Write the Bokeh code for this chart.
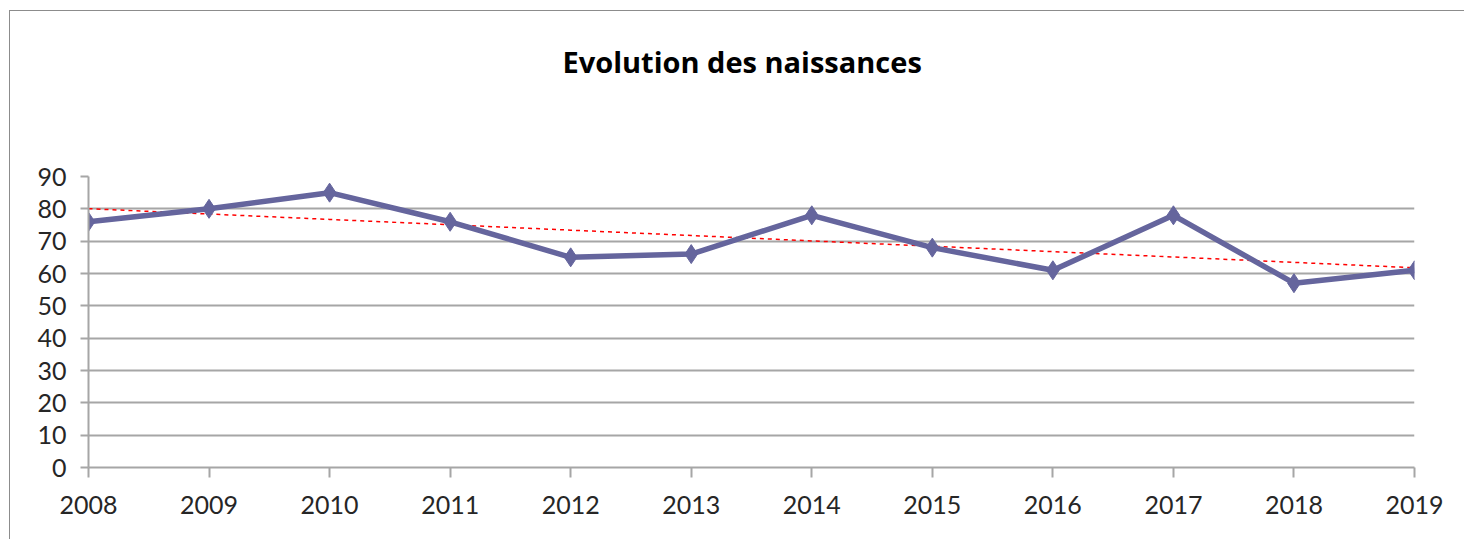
import numpy as np
from bokeh.plotting import figure
from bokeh.models import Range1d, FixedTicker, ColumnDataSource, Title
from bokeh.embed import file_html
from bokeh.resources import INLINE

# Data
years = [2008, 2009, 2010, 2011, 2012, 2013, 2014, 2015, 2016, 2017, 2018, 2019]
naissances = [76, 80, 85, 76, 65, 66, 78, 68, 61, 78, 57, 61]
y_ticks = [0, 10, 20, 30, 40, 50, 60, 70, 80, 90]
title_text = "Evolution des naissances"

# Linear trend (as Excel trendline)
coef = np.polyfit(years, naissances, 1)
trend = list(np.polyval(coef, years))

FONT = "Lato"
LINE_COL = "#65659d"
GRID_COL = "#a6a6a6"

p = figure(width=1455, height=529, output_backend="svg", toolbar_location=None,
           x_range=Range1d(2008, 2019), y_range=Range1d(0, 90),
           min_border_left=78, min_border_right=51, min_border_top=165, min_border_bottom=73)
p.styles = {"border-left": "1px solid #8c8c8c", "border-top": "1px solid #8c8c8c",
            "margin-left": "9px", "margin-top": "10px"}

p.title.text = title_text
p.title.align = "left"
p.title.offset = 474
p.title.text_font = "Open Sans"
p.title.text_font_size = "29px"
p.title.text_font_style = "bold"
p.title.text_color = "#000000"
p.title.standoff = 10

# spacer between title and plot area
spacer = Title(text=" ", text_font_size="10px", standoff=78)
p.add_layout(spacer, "above")

p.outline_line_color = None
p.background_fill_color = "white"
p.border_fill_color = "white"

p.xgrid.visible = False
p.ygrid.grid_line_color = GRID_COL
p.ygrid.grid_line_width = 2
p.ygrid.ticker = FixedTicker(ticks=y_ticks)

p.xaxis.ticker = FixedTicker(ticks=years)
p.yaxis.ticker = FixedTicker(ticks=y_ticks)
for ax in (p.xaxis[0], p.yaxis[0]):
    ax.axis_line_color = GRID_COL
    ax.axis_line_width = 2
    ax.major_tick_line_color = GRID_COL
    ax.major_tick_line_width = 2
    ax.major_tick_in = 0
    ax.minor_tick_line_color = None
    ax.major_label_text_font = FONT
    ax.major_label_text_font_size = "25px"
    ax.major_label_text_color = "#262626"
p.xaxis.major_tick_out = 10
p.xaxis.major_label_standoff = 18
p.yaxis.major_tick_out = 8
p.yaxis.major_label_standoff = 14

src = ColumnDataSource(dict(x=years, y=naissances, t=trend))
p.line("x", "t", source=src, line_color="#ff0000", line_width=1.5, line_dash="4 4")
p.line("x", "y", source=src, line_color=LINE_COL, line_width=5.5, line_join="round")
p.scatter("x", "y", source=src, marker="diamond", size=19, fill_color=LINE_COL, line_color=LINE_COL)

open("out.html", "w").write(file_html(p, INLINE))
